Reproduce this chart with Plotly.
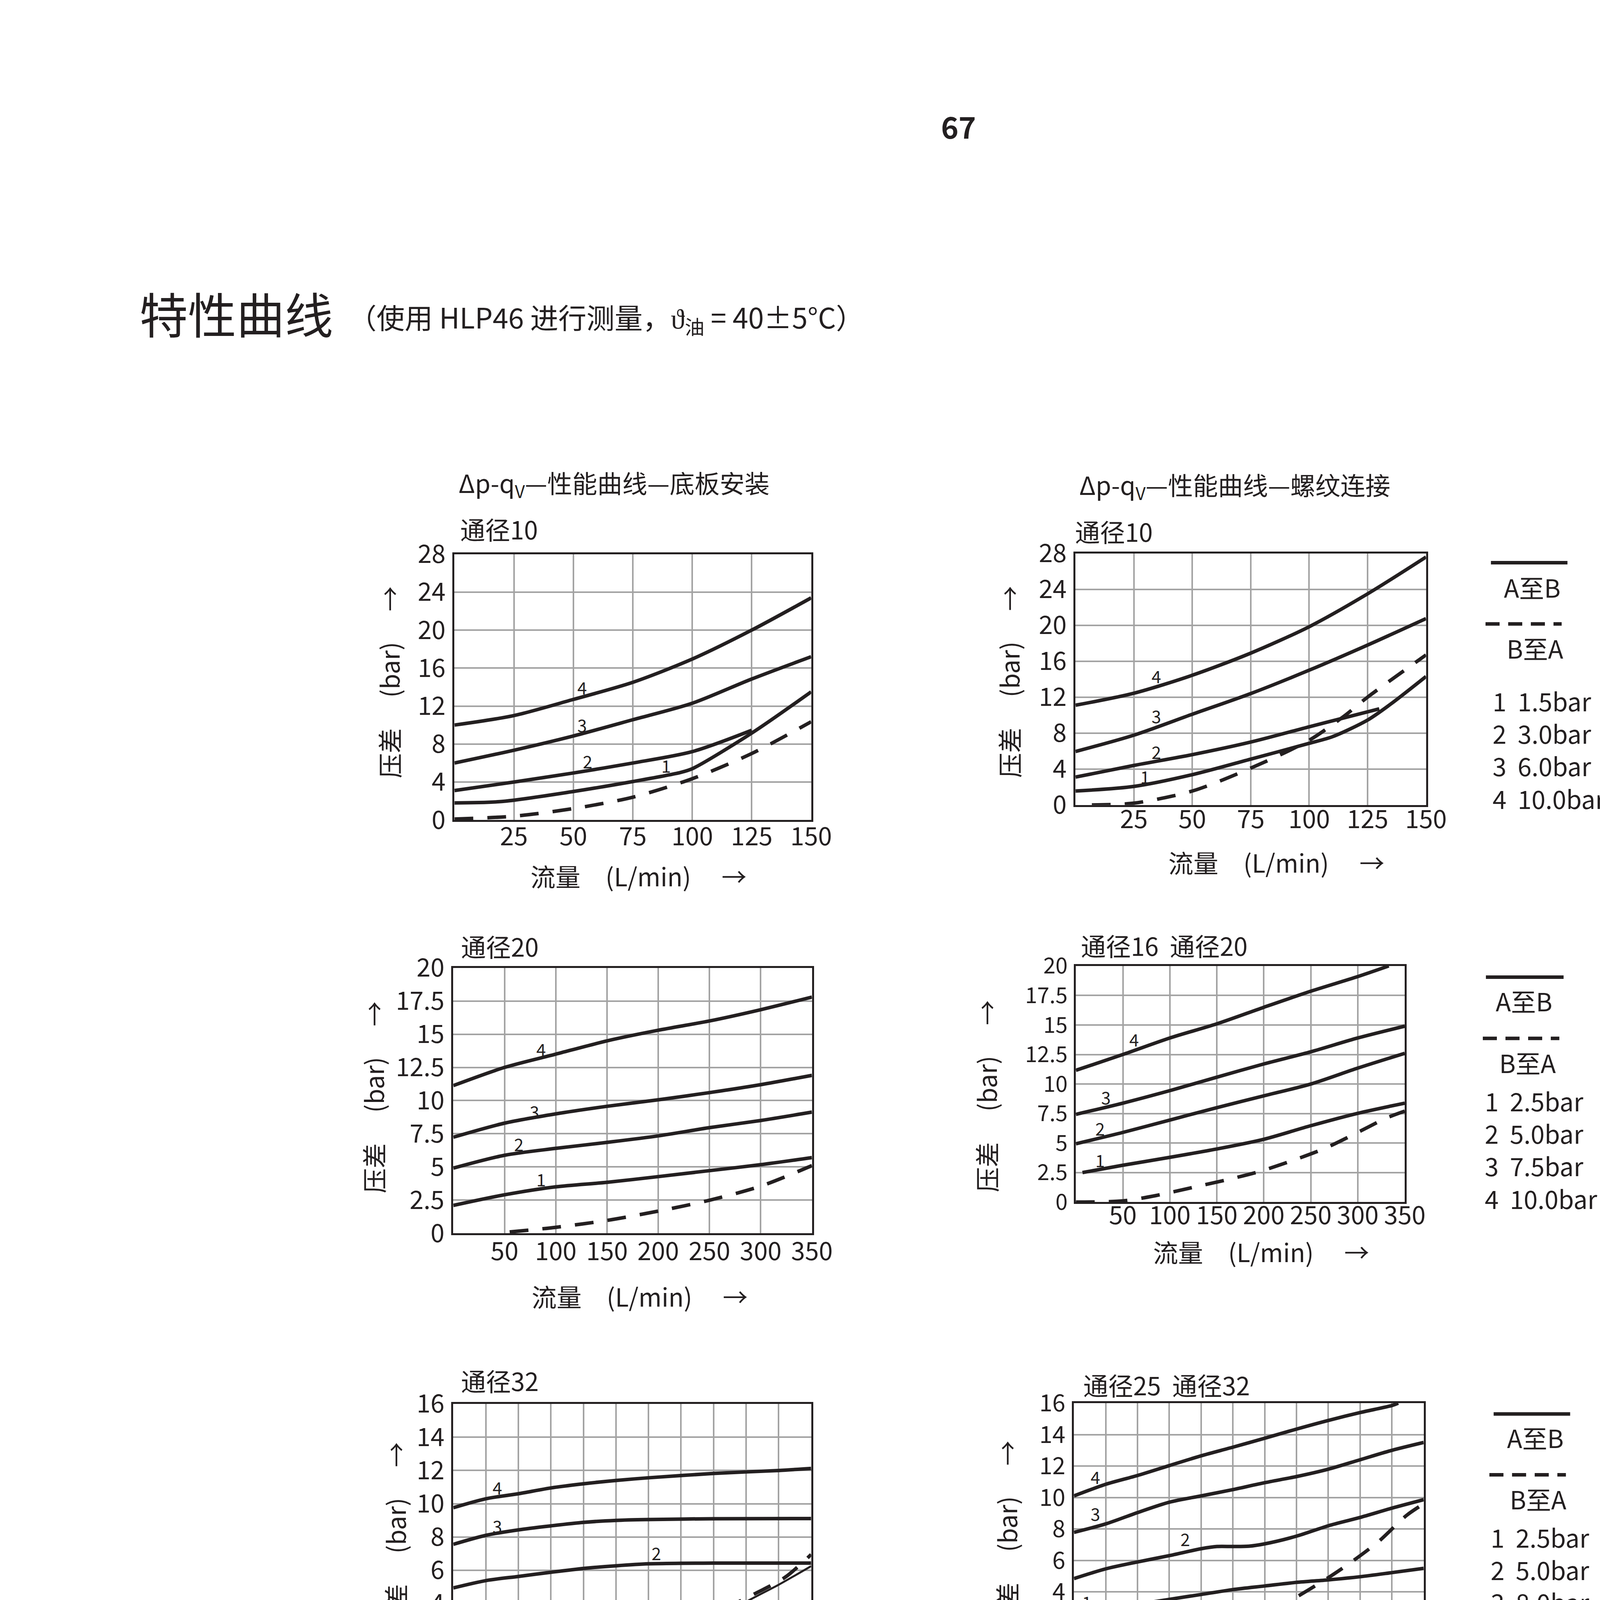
import plotly.graph_objects as go

W, H = 4961, 6615
INK = "#231f20"
GRID = "#a3a3a3"
FONT = "Noto Sans CJK SC"

# ======================= DATA =======================
# ---- Panel 1: Δp-qV 底板安装, 通径10 ----
p1_xticks = [0, 25, 50, 75, 100, 125, 150]
p1_xlabels = ["", "25", "50", "75", "100", "125", "150"]
p1_yticks = [0, 4, 8, 12, 16, 20, 24, 28]
p1_ylabels = ["0", "4", "8", "12", "16", "20", "24", "28"]
p1_c4_x = [0, 25, 50, 75, 100, 125, 150]
p1_c4_y = [10.0, 11.0, 12.7, 14.5, 16.95, 20.0, 23.4]
p1_c3_x = [0, 25, 50, 75, 100, 125, 150]
p1_c3_y = [6.0, 7.35, 8.85, 10.56, 12.3, 14.85, 17.2]
p1_c2_x = [0, 25, 50, 75, 100, 125]
p1_c2_y = [3.1, 4.0, 4.95, 6.0, 7.2, 9.45]
p1_c1_x = [0, 20, 50, 75, 95, 100, 125, 150]
p1_c1_y = [1.8, 1.95, 3.0, 4.05, 5.0, 5.4, 9.15, 13.5]
p1_ba_x = [0, 25, 50, 75, 100, 125, 150]
p1_ba_y = [0.1, 0.4, 1.2, 2.4, 4.35, 7.0, 10.35]
p1_tag_x = [89, 55.9, 53.6, 53.6]
p1_tag_y = [5.76, 6.2, 10.05, 14.0]
p1_tag_t = ["1", "2", "3", "4"]

# ---- Panel 2: Δp-qV 螺纹连接, 通径10 ----
p2_xticks = [0, 25, 50, 75, 100, 125, 150]
p2_xlabels = ["", "25", "50", "75", "100", "125", "150"]
p2_yticks = [0, 4, 8, 12, 16, 20, 24, 28]
p2_ylabels = ["0", "4", "8", "12", "16", "20", "24", "28"]
p2_c4_x = [0, 25, 50, 75, 100, 125, 150]
p2_c4_y = [11.1, 12.44, 14.44, 16.9, 19.84, 23.5, 27.6]
p2_c3_x = [0, 25, 50, 75, 100, 125, 150]
p2_c3_y = [5.95, 7.77, 10.1, 12.4, 15.0, 17.8, 20.75]
p2_c2_x = [0, 25, 50, 75, 100, 115, 130]
p2_c2_y = [3.1, 4.4, 5.6, 7.0, 8.7, 9.7, 10.7]
p2_c1_x = [0, 25, 50, 75, 100, 110, 125, 135, 150]
p2_c1_y = [1.55, 2.06, 3.37, 5.1, 6.86, 7.6, 9.45, 11.25, 14.3]
p2_ba_x = [7, 25, 50, 75, 100, 115, 125, 150]
p2_ba_y = [0.0, 0.2, 1.55, 4.1, 7.2, 9.9, 12.0, 16.7]
p2_tag_x = [29.7, 34.5, 34.5, 34.5]
p2_tag_y = [3.2, 5.95, 9.95, 14.4]
p2_tag_t = ["1", "2", "3", "4"]
p2_legend = ["1  1.5bar", "2  3.0bar", "3  6.0bar", "4  10.0bar"]

# ---- Panel 3: 通径20 ----
p3_xticks = [0, 50, 100, 150, 200, 250, 300, 350]
p3_xlabels = ["", "50", "100", "150", "200", "250", "300", "350"]
p3_yticks = [0, 2.5, 5, 7.5, 10, 12.5, 15, 17.5, 20]
p3_ylabels = ["0", "2.5", "5", "7.5", "10", "12.5", "15", "17.5", "20"]
p3_x = [0, 50, 100, 150, 200, 250, 300, 350]
p3_c4_y = [11.13, 12.5, 13.5, 14.5, 15.3, 16.0, 16.85, 17.8]
p3_c3_y = [7.24, 8.3, 9.0, 9.57, 10.06, 10.6, 11.2, 11.9]
p3_c2_y = [4.91, 5.88, 6.4, 6.85, 7.34, 7.96, 8.5, 9.13]
p3_c1_y = [2.1, 2.9, 3.5, 3.84, 4.27, 4.72, 5.17, 5.7]
p3_ba_x = [55, 100, 150, 200, 250, 300, 350]
p3_ba_y = [0.1, 0.45, 0.97, 1.67, 2.49, 3.55, 5.1]
p3_tag_x = [85.5, 63.9, 79, 85.5]
p3_tag_y = [4.1, 6.76, 9.2, 13.9]
p3_tag_t = ["1", "2", "3", "4"]

# ---- Panel 4: 通径16 通径20 ----
p4_xticks = [0, 50, 100, 150, 200, 250, 300, 350]
p4_xlabels = ["", "50", "100", "150", "200", "250", "300", "350"]
p4_yticks = [0, 2.5, 5, 7.5, 10, 12.5, 15, 17.5, 20]
p4_ylabels = ["0", "2.5", "5", "7.5", "10", "12.5", "15", "17.5", "20"]
p4_c4_x = [0, 50, 100, 150, 200, 250, 300, 333]
p4_c4_y = [11.16, 12.5, 13.9, 15.1, 16.5, 17.86, 19.1, 20.0]
p4_x = [0, 50, 100, 150, 200, 250, 300, 350]
p4_c3_y = [7.43, 8.38, 9.44, 10.58, 11.7, 12.73, 13.9, 14.9]
p4_c2_y = [4.94, 5.9, 6.95, 8.0, 9.0, 10.0, 11.35, 12.6]
p4_c1_x = [7, 50, 100, 150, 200, 250, 300, 350]
p4_c1_y = [2.5, 3.12, 3.79, 4.5, 5.32, 6.47, 7.52, 8.38]
p4_ba_x = [0, 50, 85, 125, 165, 195, 230, 265, 295, 330, 350]
p4_ba_y = [0.0, 0.1, 0.55, 1.25, 1.97, 2.58, 3.5, 4.55, 5.7, 7.1, 7.7]
p4_tag_x = [25.7, 25.7, 31.7, 62]
p4_tag_y = [3.6, 6.28, 8.9, 13.8]
p4_tag_t = ["1", "2", "3", "4"]
p4_legend = ["1  2.5bar", "2  5.0bar", "3  7.5bar", "4  10.0bar"]

# ---- Panel 5: 通径32 ----
p5_xticks = [0, 50, 100, 150, 200, 250, 300, 350, 400, 450, 500, 550]
p5_xlabels = ["", "", "100", "", "200", "", "300", "", "400", "", "500", "550"]
p5_yticks = [0, 2, 4, 6, 8, 10, 12, 14, 16]
p5_ylabels = ["0", "2", "4", "6", "8", "10", "12", "14", "16"]
p5_c4_x = [0, 50, 100, 150, 200, 250, 300, 400, 500, 550]
p5_c4_y = [9.76, 10.3, 10.6, 10.95, 11.2, 11.4, 11.56, 11.82, 12.0, 12.12]
p5_c3_x = [0, 50, 100, 150, 200, 250, 300, 400, 550]
p5_c3_y = [7.56, 8.1, 8.43, 8.67, 8.88, 9.0, 9.05, 9.1, 9.11]
p5_c2_x = [0, 50, 100, 150, 200, 250, 300, 350, 400, 550]
p5_c2_y = [4.94, 5.38, 5.63, 5.88, 6.11, 6.27, 6.39, 6.42, 6.43, 6.43]
p5_c1_x = [0, 50, 100, 150, 200, 300, 400]
p5_c1_y = [2.24, 2.7, 2.84, 2.92, 2.97, 2.97, 2.9]
p5_c1b_x = [400, 450, 500, 550]
p5_c1b_y = [2.9, 4.1, 5.13, 6.25]
p5_ba_x = [77, 122, 172, 223, 273, 322, 374, 419, 464, 510, 550]
p5_ba_y = [0.18, 0.3, 0.64, 1.1, 1.63, 2.24, 3.15, 3.76, 4.6, 5.58, 6.95]
p5_tag_x = [67.5, 312, 67.5, 67.5]
p5_tag_y = [3.15, 7.06, 8.67, 11.0]
p5_tag_t = ["1", "2", "3", "4"]

# ---- Panel 6: 通径25 通径32 ----
p6_xticks = [0, 50, 100, 150, 200, 250, 300, 350, 400, 450, 500, 550]
p6_xlabels = ["", "", "100", "", "200", "", "300", "", "400", "", "500", "550"]
p6_yticks = [0, 2, 4, 6, 8, 10, 12, 14, 16]
p6_ylabels = ["0", "2", "4", "6", "8", "10", "12", "14", "16"]
p6_c4_x = [0, 50, 100, 150, 200, 250, 300, 350, 400, 450, 500, 510]
p6_c4_y = [10.1, 10.84, 11.4, 12.03, 12.65, 13.2, 13.77, 14.35, 14.9, 15.4, 15.85, 16.0]
p6_x = [0, 50, 100, 150, 200, 250, 300, 350, 400, 450, 500, 550]
p6_c3_y = [7.78, 8.32, 9.04, 9.7, 10.1, 10.5, 10.94, 11.33, 11.8, 12.4, 13.0, 13.5]
p6_c2_x = [0, 50, 100, 150, 200, 225, 250, 275, 300, 350, 400, 450, 500, 550]
p6_c2_y = [4.84, 5.46, 5.9, 6.3, 6.74, 6.88, 6.88, 6.9, 7.05, 7.54, 8.2, 8.73, 9.32, 9.86]
p6_c1_y = [2.55, 2.9, 3.2, 3.52, 3.83, 4.14, 4.37, 4.6, 4.76, 4.96, 5.22, 5.49]
p6_ba_x = [60, 123, 193, 253, 310, 347, 400, 440, 480, 523, 550]
p6_ba_y = [0.0, 0.46, 1.13, 1.9, 2.83, 3.6, 4.9, 6.0, 7.23, 8.86, 9.6]
p6_tag_x = [20, 174.7, 33.3, 33.3]
p6_tag_y = [3.37, 7.39, 9.0, 11.33]
p6_tag_t = ["1", "2", "3", "4"]
p6_legend = ["1  2.5bar", "2  5.0bar", "3  8.0bar", "4  10.0bar"]

# ---- Panel 7: 控制压力-负载压力, 不带释压功能 ----
p7_xticks = [0, 60, 120, 180, 240, 300, 330]
p7_xlabels = ["", "60", "120", "180", "240", "300", "330"]
p7_yticks = [0, 20, 40, 60, 80, 100, 120]
p7_ylabels = ["0", "20", "40", "60", "80", "100", "120"]
p7_c3_x = [7.5, 330]
p7_c3_y = [4.6, 119.2]
p7_c1_x = [10, 330]
p7_c1_y = [2.8, 113.1]
p7_limit_q = 316
p7_tag_x = [260.9, 283.4, 288.5]
p7_tag_y = [107.7, 83.0, 32.0]
p7_tag_t = ["3", "1", "2"]
p7_lead_x = [[271.5, 281.3], [279, 273], [298.4, 312.7]]
p7_lead_y = [[105.3, 102.3], [87.8, 92.6], [32.7, 25.9]]

# ---- Panel 8: 带释压功能 ----
p8_xticks = [0, 60, 120, 180, 240, 300, 330]
p8_xlabels = ["", "60", "120", "180", "240", "300", "330"]
p8_yticks = [0, 20, 40, 60, 80, 100, 120]
p8_ylabels = ["0", "20", "40", "60", "80", "100", "120"]
p8_c3_x = [10, 330]
p8_c3_y = [6.3, 109.0]
p8_c1a_x = [10, 330]
p8_c1a_y = [5.1, 101.2]
p8_c4_x = [12, 330]
p8_c4_y = [3.7, 34.5]
p8_c1b_x = [12, 330]
p8_c1b_y = [2.7, 30.3]
p8_limit_q = 313
p8_tag_x = [248.8, 206, 281.6, 144.8]
p8_tag_y = [93.0, 44.8, 52.0, 27.7]
p8_tag_t = ["3", "1", "2", "4"]
p8_lead_x = [[261, 268.8], [215.2, 225.9], [215.2, 255], [293.2, 312.5], [138.7, 127.9]]
p8_lead_y = [[91.8, 90.0], [46.1, 69.2], [46.1, 27.9], [51.6, 46.1], [24.1, 16.0]]

# ======================= HELPERS =======================
def fx(p):
    return p / W


def fy(p):
    return 1 - p / H


fig = go.Figure()
layout = {}
annotations = []
shapes = []


def tickfont(size=64):
    return dict(family=FONT, size=size, color=INK)


def add_axes(k, xd, yd, xr, yr, xt, xl, yt, yl, gap, shifted=None, ysize=64):
    s = "" if k == 1 else str(k)
    shifted = shifted or {}
    common = dict(showgrid=True, gridcolor=GRID, gridwidth=4, showline=True,
                  linecolor=INK, linewidth=5, mirror=True, zeroline=False,
                  ticks="", tickmode="array", fixedrange=True)
    # labelled major ticks; every grid line drawn as a minor grid line
    maj_v = [v for v, lab in zip(xt, xl) if lab and lab not in shifted]
    maj_t = [lab for lab in xl if lab and lab not in shifted]
    for lab, sh in shifted.items():
        i = xl.index(lab)
        annotations.append(dict(text=lab, xref="x" + s, yref="y" + s,
                                x=xt[i], y=yr[0], xshift=sh, yshift=-(gap - 10),
                                xanchor="center", yanchor="middle", showarrow=False,
                                font=tickfont()))
    layout["xaxis" + s] = dict(domain=[fx(xd[0]), fx(xd[1])], range=xr, anchor="y" + s,
                              tickvals=maj_v, ticktext=maj_t, ticklabelstandoff=gap - 65,
                              tickfont=tickfont(),
                              minor=dict(tickmode="array", tickvals=xt, showgrid=True,
                                         gridcolor=GRID, gridwidth=4, ticks=""),
                              **common)
    layout["yaxis" + s] = dict(domain=[fy(yd[1]), fy(yd[0])], range=yr, anchor="x" + s,
                              tickvals=yt, ticktext=yl, ticklabelstandoff=5,
                              tickfont=tickfont(ysize), **common)
    return s


def line(s, x, y, dash=None, width=9, shape="spline"):
    fig.add_trace(go.Scatter(x=x, y=y, xaxis="x" + s, yaxis="y" + s, mode="lines",
                             line=dict(color=INK, width=width, shape=shape, smoothing=0.8,
                                       dash=dash if dash else "solid"),
                             showlegend=False, hoverinfo="skip"))


DASH = "48px,36px"


def tags(s, xs, ys, ts):
    for x, y, t in zip(xs, ys, ts):
        annotations.append(dict(text=t, xref="x" + s, yref="y" + s, x=x, y=y,
                                showarrow=False, xanchor="center", yanchor="middle",
                                font=dict(family=FONT, size=44, color=INK)))


def text(t, x, y, size=64, xanchor="left", yanchor="middle", angle=0, bold=False, align="left"):
    if bold:
        t = "<b>" + t + "</b>"
    annotations.append(dict(text=t, xref="paper", yref="paper", x=fx(x), y=fy(y),
                            xanchor=xanchor, yanchor=yanchor, textangle=angle, showarrow=False,
                            align=align, font=dict(family=FONT, size=size, color=INK)))


YLAB = "压差　 (bar)　 →"
XLAB = "流量　(L/min)　 →"


def legend_block(x0, x1, y_solid, ab_xy, x0d, x1d, y_dash, ba_xy, list_x, list_y, entries):
    shapes.append(dict(type="line", xref="paper", yref="paper", x0=fx(x0), x1=fx(x1),
                       y0=fy(y_solid), y1=fy(y_solid), line=dict(color=INK, width=9)))
    text("A至B", ab_xy[0], ab_xy[1], xanchor="center")
    shapes.append(dict(type="line", xref="paper", yref="paper", x0=fx(x0d), x1=fx(x1d),
                       y0=fy(y_dash), y1=fy(y_dash), line=dict(color=INK, width=9, dash="36px,22px")))
    text("B至A", ba_xy[0], ba_xy[1], xanchor="center")
    text("<br>".join(entries), list_x, sum(list_y) / len(list_y), size=64)


# ---------------- Panel 1 ----------------
s = add_axes(1, (1176, 2099), (1386, 2076), [0, 150], [0, 28], p1_xticks, p1_xlabels,
             p1_yticks, p1_ylabels, gap=48)
line(s, p1_c4_x, p1_c4_y)
line(s, p1_c3_x, p1_c3_y)
line(s, p1_c2_x, p1_c2_y)
line(s, p1_c1_x, p1_c1_y)
line(s, p1_ba_x, p1_ba_y, dash=DASH)
tags(s, p1_tag_x, p1_tag_y, p1_tag_t)
text("Δp-q<sub>V</sub>—性能曲线—底板安装", 1185, 1203)
text("通径10", 1189, 1319)
text(YLAB, 1006, 1719, angle=-90, xanchor="center")
text(XLAB, 1371, 2220)

# ---------------- Panel 2 ----------------
s = add_axes(2, (2783, 3690), (1384, 2037), [0, 150], [0, 28], p2_xticks, p2_xlabels,
             p2_yticks, p2_ylabels, gap=43)
line(s, p2_c4_x, p2_c4_y)
line(s, p2_c3_x, p2_c3_y)
line(s, p2_c2_x, p2_c2_y)
line(s, p2_c1_x, p2_c1_y)
line(s, p2_ba_x, p2_ba_y, dash=DASH)
tags(s, p2_tag_x, p2_tag_y, p2_tag_t)
text("Δp-q<sub>V</sub>—性能曲线—螺纹连接", 2791, 1208)
text("通径10", 2780, 1325)
text(YLAB, 2610, 1718, angle=-90, xanchor="center")
text(XLAB, 3021, 2184)
legend_block(3858, 4056, 1408, (3965, 1470), 3844, 4041, 1567, (3972, 1629), 3860,
             [1772, 1852, 1932, 2013], p2_legend)

# ---------------- Panel 3 ----------------
s = add_axes(3, (1173, 2101), (2460, 3149), [0, 350], [0, 20], p3_xticks, p3_xlabels,
             p3_yticks, p3_ylabels, gap=52)
line(s, p3_x, p3_c4_y)
line(s, p3_x, p3_c3_y)
line(s, p3_x, p3_c2_y)
line(s, p3_x, p3_c1_y)
line(s, p3_ba_x, p3_ba_y, dash=DASH)
tags(s, p3_tag_x, p3_tag_y, p3_tag_t)
text("通径20", 1191, 2402)
text(YLAB, 965, 2796, angle=-90, xanchor="center")
text(XLAB, 1374, 3311)

# ---------------- Panel 4 ----------------
s = add_axes(4, (2784, 3635), (2455, 3068), [0, 350], [0, 20], p4_xticks, p4_xlabels,
             p4_yticks, p4_ylabels, gap=40, ysize=56)
line(s, p4_c4_x, p4_c4_y)
line(s, p4_x, p4_c3_y)
line(s, p4_x, p4_c2_y)
line(s, p4_c1_x, p4_c1_y)
line(s, p4_ba_x, p4_ba_y, dash=DASH)
tags(s, p4_tag_x, p4_tag_y, p4_tag_t)
text("通径16  通径20", 2795, 2400)
text(YLAB, 2551, 2793, angle=-90, xanchor="center")
text(XLAB, 2982, 3195)
legend_block(3845, 4046, 2484, (3944, 2544), 3837, 4035, 2643, (3953, 2705), 3840,
             [2814, 2890, 2971, 3048], p4_legend)

# ---------------- Panel 5 ----------------
s = add_axes(5, (1173, 2099), (3592, 4283), [0, 550], [0, 16], p5_xticks, p5_xlabels,
             p5_yticks, p5_ylabels, gap=43, shifted={"550": 40})
line(s, p5_c4_x, p5_c4_y)
line(s, p5_c3_x, p5_c3_y)
line(s, p5_c2_x, p5_c2_y)
line(s, p5_c1_x, p5_c1_y)
line(s, p5_c1b_x, p5_c1b_y, width=5)
line(s, p5_ba_x, p5_ba_y, dash=DASH)
tags(s, p5_tag_x, p5_tag_y, p5_tag_t)
text("通径32", 1191, 3530)
text(YLAB, 1022, 3941, angle=-90, xanchor="center")
text(XLAB, 1374, 4427)

# ---------------- Panel 6 ----------------
s = add_axes(6, (2779, 3684), (3590, 4243), [0, 550], [0, 16], p6_xticks, p6_xlabels,
             p6_yticks, p6_ylabels, gap=46, shifted={"500": -27, "550": 26}, ysize=60)
line(s, p6_c4_x, p6_c4_y)
line(s, p6_x, p6_c3_y)
line(s, p6_c2_x, p6_c2_y)
line(s, p6_x, p6_c1_y)
line(s, p6_ba_x, p6_ba_y, dash=DASH)
tags(s, p6_tag_x, p6_tag_y, p6_tag_t)
text("通径25  通径32", 2801, 3541)
text(YLAB, 2604, 3937, angle=-90, xanchor="center")
text(XLAB, 2982, 4393)
legend_block(3865, 4063, 3618, (3973, 3678), 3854, 4052, 3776, (3980, 3837), 3855,
             [3945, 4024, 4103, 4181], p6_legend)

# ---------------- Panel 7 ----------------
s = add_axes(7, (1173, 2205), (4936, 5673), [0, 330], [0, 120], p7_xticks, p7_xlabels,
             p7_yticks, p7_ylabels, gap=42, shifted={"300": -10, "330": 37})
line(s, p7_c3_x, p7_c3_y, shape="linear")
line(s, p7_c1_x, p7_c1_y, shape="linear")
line(s, [p7_limit_q, p7_limit_q], [0, 120], dash="46px,38px", shape="linear")
for lx, ly in zip(p7_lead_x, p7_lead_y):
    line(s, lx, ly, width=3, shape="linear")
tags(s, p7_tag_x, p7_tag_y, p7_tag_t)
text("控制压力-负载压力-特性曲线", 1173, 4784)
text("不带释压功能", 1173, 4868)
text(YLAB, 971, 5315, angle=-90, xanchor="center")
text(XLAB, 1376, 5815)

# ---------------- Panel 8 ----------------
s = add_axes(8, (2775, 3820), (4937, 5685), [0, 330], [0, 120], p8_xticks, p8_xlabels,
             p8_yticks, p8_ylabels, gap=42, shifted={"300": -25, "330": 20})
line(s, p8_c3_x, p8_c3_y, shape="linear")
line(s, p8_c1a_x, p8_c1a_y, shape="linear")
line(s, p8_c4_x, p8_c4_y, shape="linear")
line(s, p8_c1b_x, p8_c1b_y, shape="linear")
line(s, [p8_limit_q, p8_limit_q], [0, 120], dash="46px,38px", shape="linear")
for lx, ly in zip(p8_lead_x, p8_lead_y):
    line(s, lx, ly, width=3, shape="linear")
tags(s, p8_tag_x, p8_tag_y, p8_tag_t)
text("带释压功能", 2781, 4868)
text(YLAB, 2589, 5318, angle=-90, xanchor="center")
text(XLAB, 3014, 5812)
text("1制造公差　  2极限值　  3锥阀芯　  4预释压", 3326, 5903, xanchor="center")

# ---------------- Page header / footer ----------------
text("67", 2481, 274, size=76, xanchor="center", bold=True)
text("特性曲线", 359, 759, size=124)
text("（使用 HLP46 进行测量，ϑ<sub>油</sub> = 40±5°C）", 900, 773, size=72)
shapes.append(dict(type="line", xref="paper", yref="paper", x0=fx(357), x1=fx(4608),
                   y0=fy(6215), y1=fy(6215), line=dict(color=INK, width=3)))
text("液控单向阀 SV/SL", 356, 6293, size=56)
text("4/6", 2483, 6293, size=56, xanchor="center")
text("编号 / 版本：2023-10 / 乐卓液压", 4607, 6293, size=56, xanchor="right")

fig.update_layout(
    width=W, height=H, autosize=False,
    margin=dict(l=0, r=0, t=0, b=0),
    paper_bgcolor="white", plot_bgcolor="white",
    showlegend=False,
    font=dict(family=FONT, color=INK),
    annotations=annotations, shapes=shapes,
    **layout,
)

PIN = ("document.body.style.margin='0';"
       "var d=document.getElementById('{plot_id}');"
       "d.style.position='absolute';d.style.left='0px';d.style.top='0px';")
fig.write_html("out.html", post_script=PIN)
